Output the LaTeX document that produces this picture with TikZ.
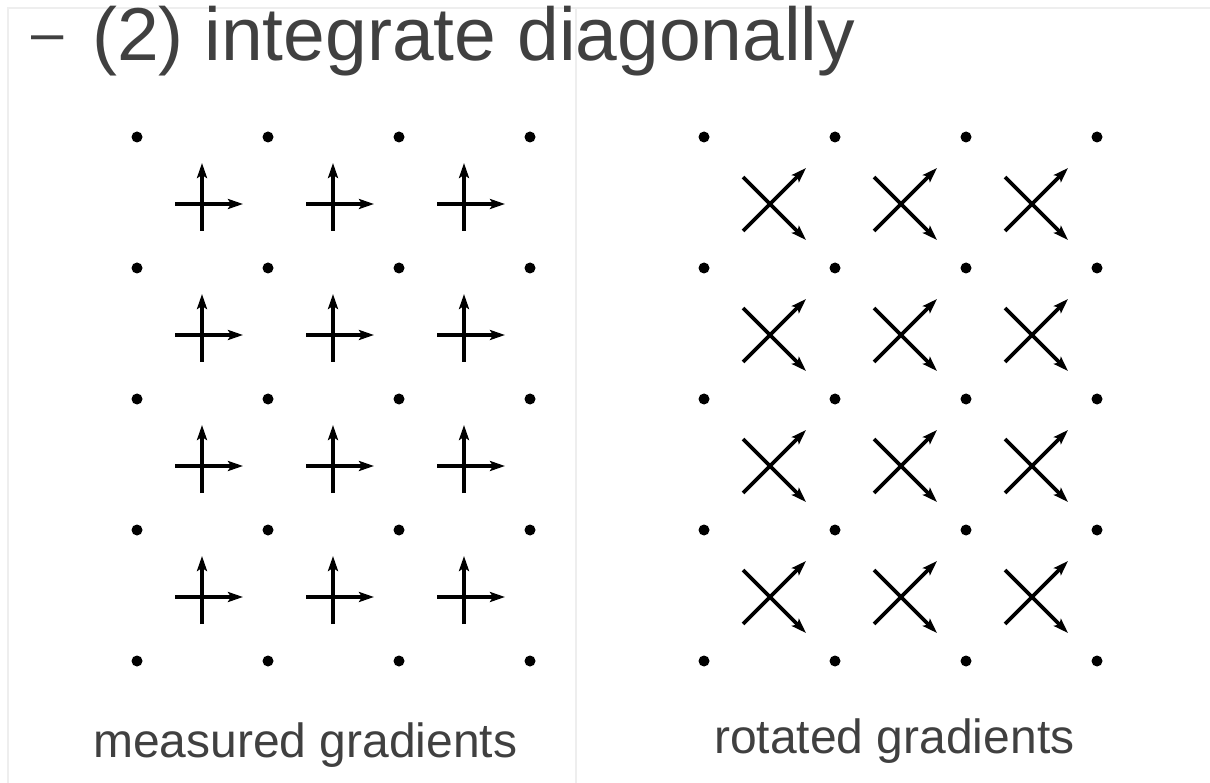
\documentclass[tikz,border=0pt]{standalone}
\usepackage{fontspec}
\setmainfont{Liberation Sans}
\usetikzlibrary{arrows.meta}
\definecolor{txtgray}{HTML}{404040}
\definecolor{framegray}{HTML}{EEEEEE}
\begin{document}
\begin{tikzpicture}[x=1pt,y=-1pt,
  frameline/.style={draw=framegray,line width=2pt},
  gradarrow/.style={line width=3.8pt,-{Stealth[length=15pt,width=10pt,inset=3pt]}},
  gridpt/.style={fill=black},
  ttl/.style={anchor=base west,inner sep=0pt,text=txtgray,font=\fontsize{75}{90}\selectfont},
  lbl/.style={anchor=base west,inner sep=0pt,text=txtgray,font=\fontsize{48}{56}\selectfont}]
\useasboundingbox (0,0) rectangle (1210,783);
% faint frame lines
\draw[frameline] (7,8) -- (1210,8);
\draw[frameline] (8,8) -- (8,783);
\draw[frameline] (576,8) -- (576,783);
% title
\node[ttl] (dash) at (31,61) {\raisebox{8pt}{\fontsize{58}{66}\selectfont –}};
\node[ttl] (title) at (92,61) {(2) integrate diagonally};
% grid dots
\foreach \y in {137,268,399,530,661}{
  \foreach \x in {137,268,399,530}{\fill[gridpt] (\x,\y) circle (5.5pt);}
  \foreach \x in {704,835,966,1097}{\fill[gridpt] (\x,\y) circle (5.5pt);}
}
% measured gradients (plus marks)
\foreach \cy in {204,335,466,597}{
  \foreach \cx in {202,333,464}{
    \draw[gradarrow] (\cx,\cy+27) -- (\cx,\cy-41);
    \draw[gradarrow] (\cx-27,\cy) -- (\cx+41,\cy);
  }
}
% rotated gradients (x marks)
\foreach \cy in {204,335,466,597}{
  \foreach \cx in {770,901,1032}{
    \draw[gradarrow] (\cx-27,\cy-27) -- (\cx+36,\cy+36);
    \draw[gradarrow] (\cx-27,\cy+27) -- (\cx+36,\cy-36);
  }
}
% labels
\node[lbl] (lmeas) at (93,757) {measured gradients};
\node[lbl] (lrot) at (714,753) {rotated gradients};
\end{tikzpicture}
\end{document}
